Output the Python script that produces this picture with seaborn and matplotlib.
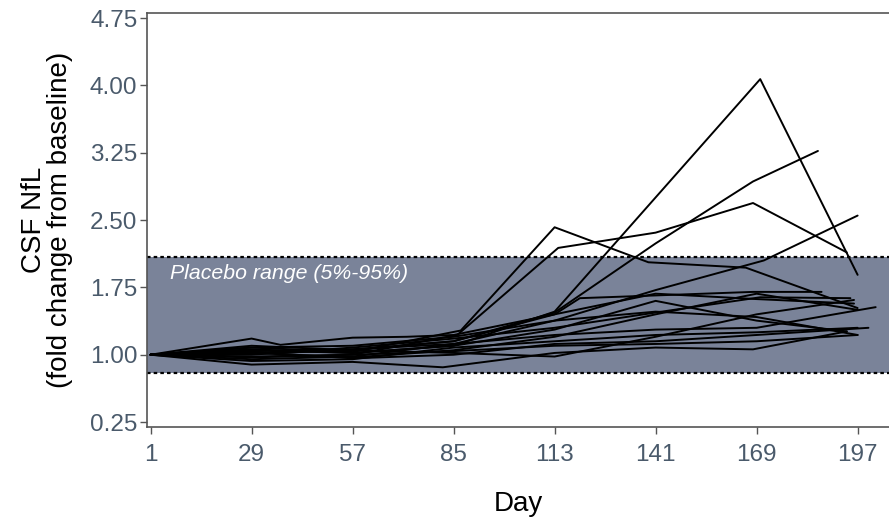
import numpy as np
import pandas as pd
import matplotlib
matplotlib.use("Agg")
import matplotlib.pyplot as plt
import seaborn as sns

# ---- data ----
days_s01 = [1, 29, 57, 85, 113, 170, 197]
vals_s01 = [1.00, 1.05, 1.02, 1.10, 1.48, 4.07, 1.89]
days_s02 = [1, 29, 57, 87, 113, 139, 166, 197]
vals_s02 = [1.00, 1.08, 1.03, 1.27, 2.42, 2.03, 1.97, 1.52]
days_s03 = [1, 29, 57, 86, 114, 141, 168, 194]
vals_s03 = [1.00, 0.97, 1.00, 1.22, 2.19, 2.36, 2.69, 2.14]
days_s04 = [1, 29, 57, 85, 113, 141, 171, 197]
vals_s04 = [1.00, 1.02, 1.06, 1.12, 1.38, 1.72, 2.05, 2.55]
days_s05 = [1, 29, 57, 85, 113, 141, 168, 186]
vals_s05 = [1.00, 1.10, 1.05, 1.15, 1.47, 2.24, 2.93, 3.27]
days_s06 = [1, 29, 57, 85, 113, 120, 168, 187]
vals_s06 = [1.00, 1.04, 1.06, 1.15, 1.45, 1.63, 1.70, 1.70]
days_s07 = [1, 29, 57, 85, 113, 141, 170, 195]
vals_s07 = [1.00, 1.00, 1.08, 1.18, 1.30, 1.47, 1.64, 1.63]
days_s08 = [1, 29, 57, 85, 113, 141, 169, 194]
vals_s08 = [1.00, 1.06, 1.02, 1.10, 1.28, 1.60, 1.38, 1.26]
days_s09 = [1, 29, 57, 85, 113, 141, 169, 202]
vals_s09 = [1.00, 0.95, 0.98, 1.12, 1.22, 1.28, 1.30, 1.53]
days_s10 = [1, 29, 57, 85, 113, 141, 169, 197]
vals_s10 = [1.00, 1.02, 0.97, 1.05, 1.20, 1.45, 1.68, 1.50]
days_s11 = [1, 29, 37, 57, 72, 85, 113, 141, 169, 196]
vals_s11 = [1.00, 1.18, 1.11, 1.19, 1.20, 1.22, 1.45, 1.68, 1.62, 1.57]
days_s12 = [1, 29, 57, 82, 113, 141, 168, 194]
vals_s12 = [1.00, 0.89, 0.92, 0.86, 1.02, 1.08, 1.06, 1.26]
days_s13 = [1, 29, 57, 85, 113, 141, 169, 197]
vals_s13 = [1.00, 0.98, 1.00, 1.04, 1.10, 1.12, 1.15, 1.22]
days_s14 = [1, 29, 57, 85, 113, 141, 169, 200]
vals_s14 = [1.00, 1.03, 0.96, 1.00, 1.12, 1.15, 1.22, 1.30]
days_s15 = [1, 29, 57, 85, 113, 141, 169, 197]
vals_s15 = [1.00, 0.93, 0.95, 1.08, 1.15, 1.22, 1.25, 1.30]
days_s16 = [1, 29, 57, 85, 113, 141, 169, 196]
vals_s16 = [1.00, 1.01, 1.05, 1.02, 0.98, 1.20, 1.45, 1.61]
days_s17 = [1, 29, 57, 85, 113, 141, 169, 197]
vals_s17 = [1.00, 1.08, 1.10, 1.20, 1.38, 1.48, 1.42, 1.22]

subjects = {
    "S01": (days_s01, vals_s01), "S02": (days_s02, vals_s02),
    "S03": (days_s03, vals_s03), "S04": (days_s04, vals_s04),
    "S05": (days_s05, vals_s05), "S06": (days_s06, vals_s06),
    "S07": (days_s07, vals_s07), "S08": (days_s08, vals_s08),
    "S09": (days_s09, vals_s09), "S10": (days_s10, vals_s10),
    "S11": (days_s11, vals_s11), "S12": (days_s12, vals_s12),
    "S13": (days_s13, vals_s13), "S14": (days_s14, vals_s14),
    "S15": (days_s15, vals_s15), "S16": (days_s16, vals_s16),
    "S17": (days_s17, vals_s17),
}

placebo_low = 0.80
placebo_high = 2.09
band_label = "Placebo range (5%-95%)"

x_ticks = [1, 29, 57, 85, 113, 141, 169, 197]
y_ticks = [0.25, 1.00, 1.75, 2.50, 3.25, 4.00, 4.75]
y_ticklabels = ["0.25", "1.00", "1.75", "2.50", "3.25", "4.00", "4.75"]
x_label = "Day"
y_label = "CSF NfL\n(fold change from baseline)"

rows = []
for sid, (d, v) in subjects.items():
    for di, vi in zip(d, v):
        rows.append({"subject": sid, "day": di, "value": vi})
df = pd.DataFrame(rows)

# ---- plot ----
sns.set_style("white")
plt.rcParams["font.family"] = ["Liberation Sans", "DejaVu Sans"]

fig = plt.figure(figsize=(8.89, 5.19), dpi=100)
ax = fig.add_axes([147 / 889, (519 - 427) / 519, (889 - 147) / 889, (427 - 12.7) / 519])

band_color = "#7a8399"
ax.axhspan(placebo_low, placebo_high, color=band_color, zorder=0, lw=0)
for yv in (placebo_low, placebo_high):
    ax.axhline(yv, color="black", lw=1.6, ls=(0, (1.6, 1.4)), zorder=1)

sns.lineplot(data=df, x="day", y="value", units="subject", estimator=None,
             color="black", lw=1.4, ax=ax, zorder=3, sort=False)

ax.text(6.5, 1.90, band_label, color="white", style="italic", fontsize=15.3,
        va="center", ha="left", zorder=4)

ax.set_xlim(0, 205.7)
ax.set_ylim(0.195, 4.81)
ax.set_xticks(x_ticks)
ax.set_yticks(y_ticks)
ax.set_yticklabels(y_ticklabels)

tick_color = "#4a5a6b"
ax.tick_params(axis="both", which="major", labelsize=17.5, labelcolor=tick_color,
               color="#555555", length=5, width=1, direction="out",
               left=True, bottom=True)
ax.tick_params(axis="x", pad=7)
ax.tick_params(axis="y", pad=2)

for side in ("left", "bottom", "top"):
    ax.spines[side].set_visible(True)
    ax.spines[side].set_color("#555555")
    ax.spines[side].set_linewidth(1.2)
ax.spines["right"].set_visible(False)

ax.set_xlabel(x_label, fontsize=20, color="black", labelpad=18)
ax.set_ylabel(y_label, fontsize=20, color="black", labelpad=12, linespacing=1.0)

fig.savefig("out.png", dpi=100)
